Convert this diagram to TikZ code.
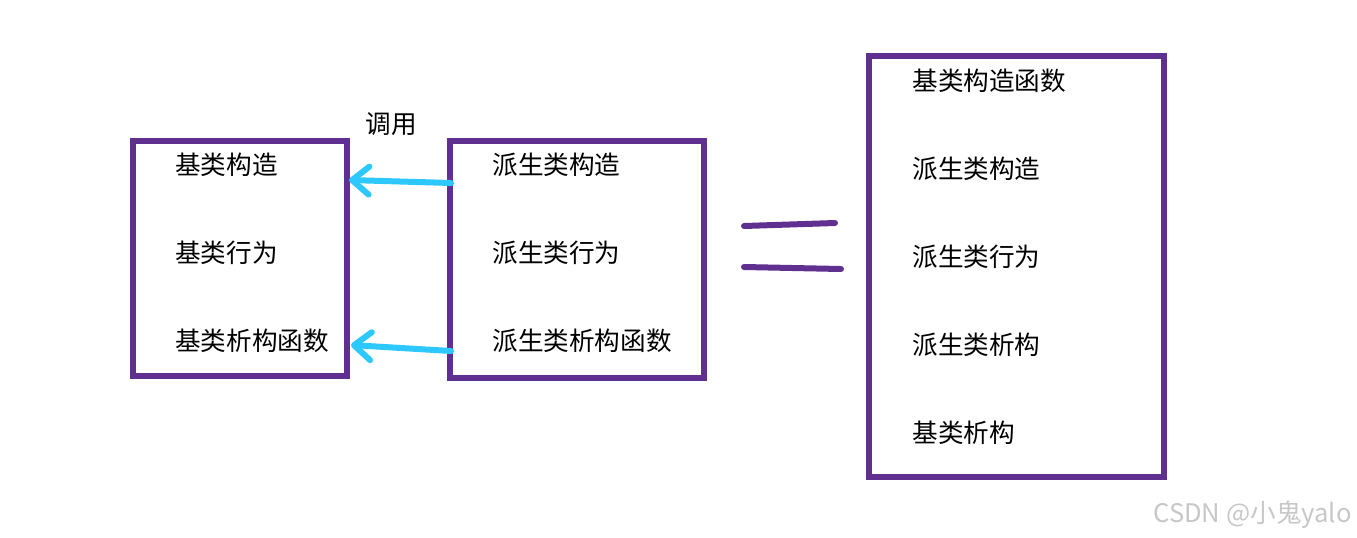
\documentclass[tikz,border=0pt]{standalone}
\usepackage{fontspec}
\setmainfont{Noto Sans CJK SC}
\usetikzlibrary{arrows.meta}

\definecolor{boxpurple}{RGB}{96,48,145}
\definecolor{callcyan}{RGB}{45,200,255}

\tikzset{
    box/.style={boxpurple, line width=2.6pt},
    item/.style={anchor=west, inner sep=0pt, font=\fontsize{12.8}{15}\selectfont},
    call/.style={callcyan, line width=3pt, line cap=round,
        -{Straight Barb[length=8.5pt, width=14pt, round]}},
    eqline/.style={boxpurple, line width=3pt, line cap=round}
}

\begin{document}
\begin{tikzpicture}[x=0.5pt, y=-0.5pt]
            \useasboundingbox (0,0) rectangle (1357,537);

            % boxes
            \draw[box] (133,141) rectangle (347,376);
            \draw[box] (450,141) rectangle (704,378);
            \draw[box] (869,56) rectangle (1164,477);

            % left box
            \node[item] (b1) at (175,165) {基类构造};
            \node[item] (b2) at (175,253) {基类行为};
            \node[item] (b3) at (175,341) {基类析构函数};

            % middle box
            \node[item] (d1) at (492,165) {派生类构造};
            \node[item] (d2) at (492,253) {派生类行为};
            \node[item] (d3) at (492,341) {派生类析构函数};

            % right box
            \node[item] (r1) at (912,81) {基类构造函数};
            \node[item] (r2) at (912,169) {派生类构造};
            \node[item] (r3) at (912,257) {派生类行为};
            \node[item] (r4) at (912,345) {派生类析构};
            \node[item] (r5) at (912,433) {基类析构};

            \node[item, anchor=center] (call) at (391,124) {调用};

            % calls
            \coordinate (d1out) at (451,183);
            \coordinate (b1in) at (349,180);
            \coordinate (d3out) at (451,351);
            \coordinate (b3in) at (351,345);
            \draw[call] (d1out) -- (b1in);
            \draw[call] (d3out) -- (b3in);

            % equals sign
            \coordinate (e1a) at (744,226);
            \coordinate (e1b) at (835,223);
            \coordinate (e2a) at (744,267);
            \coordinate (e2b) at (841,269);
            \draw[eqline] (e1a) -- (e1b);
            \draw[eqline] (e2a) -- (e2b);

            \node[item, anchor=east, text=black!22] (mark) at (1352,515) {CSDN @小鬼yalo};
        \end{tikzpicture}
\end{document}
